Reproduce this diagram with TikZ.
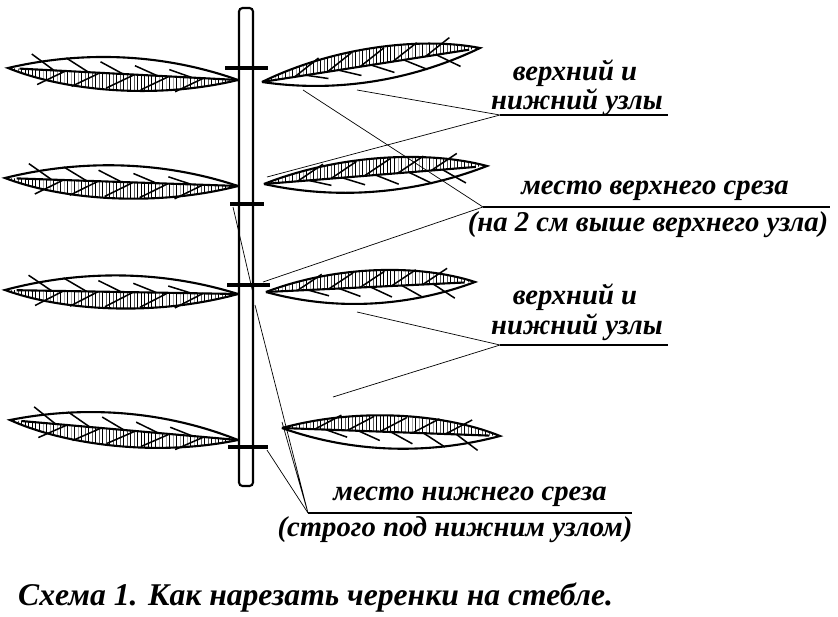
\documentclass[tikz,border=0pt]{standalone}
\usepackage{fontspec}
\setmainfont{Liberation Serif}[BoldItalicFont={Liberation Serif Bold Italic}]
\usetikzlibrary{patterns}
\newcommand\myleaf[4]{%
\pgfmathsetmacro\LL{veclen(#3-#1,#4-#2)}%
\begin{scope}[shift={(#1,#2)}, rotate={atan2(#2-#4,#3-#1)}]
\begin{scope}
\clip (0,0) .. controls (0.35*\LL,-24) and (0.75*\LL,-20) .. (\LL,0) -- cycle;
\fill[pattern=vertical lines] (0,-25) rectangle (\LL,0);
\end{scope}
\draw[leafline] (0,0) .. controls (0.35*\LL,-24) and (0.75*\LL,-20) .. (\LL,0) .. controls (0.7*\LL,20) and (0.35*\LL,24) .. (0,0);
\draw[leafline] (0,0) -- (0.95*\LL,0);
\foreach \t in {0.2,0.35,0.5,0.65,0.8}{
  \draw[line width=1.3pt] (\t*\LL,0) -- (\t*\LL+0.1*\LL,14*\t+4);
  \draw[line width=1.3pt] (\t*\LL-0.05*\LL,0) -- (\t*\LL+0.07*\LL,-15);
}
\end{scope}}
\tikzset{leafline/.style={line width=1.8pt},
 thin line/.style={line width=0.6pt},
 lab/.style={font=\fontsize{24.5}{26}\selectfont\bfseries\itshape, inner sep=0pt},
 cutmark/.style={line width=3.5pt}}
\begin{document}
\begin{tikzpicture}[x=0.03cm,y=-0.03cm]
\useasboundingbox (0,0) rectangle (838,617);
% stem
\draw[line width=1.8pt, fill=white, rounded corners=3] (239,8) rectangle (253,486);
% leaves
\myleaf{238}{80}{8}{68}
\myleaf{262}{82}{480}{48}
\myleaf{238}{186}{5}{178}
\myleaf{264}{184}{487}{166}
\myleaf{238}{294}{5}{290}
\myleaf{266}{292}{475}{282}
\myleaf{238}{440}{10}{420}
\myleaf{282}{428}{500}{436}
% cut marks
\draw[cutmark] (225,68) -- (268,68);
\draw[cutmark] (230,204) -- (264,204);
\draw[cutmark] (227,285) -- (270,285);
\draw[cutmark] (228,447) -- (268,447);
% named points
\coordinate (u1) at (303,90);
\coordinate (u2) at (357,90);
\coordinate (u3) at (267,177);
\coordinate (c1) at (263,282);
\coordinate (m1) at (233,207);
\coordinate (m2) at (253,293);
\coordinate (l1) at (357,312);
\coordinate (l2) at (333,397);
\coordinate (b1) at (255,305);
\coordinate (b2) at (282,422);
\coordinate (b3) at (267,450);
\coordinate (J1) at (500,115);
\coordinate (J1e) at (668,115);
\coordinate (J2) at (483,207);
\coordinate (J2e) at (830,207);
\coordinate (J3) at (500,345);
\coordinate (J3e) at (668,345);
\coordinate (J4) at (308,513);
\coordinate (J4e) at (632,513);
% labels
\node[lab] (t1) at (575,73) {верхний и};
\node[lab] (t2) at (577,102) {нижний узлы};
\node[lab] (t3) at (655,191) {место верхнего среза};
\node[lab] (t4) at (648,225) {(на 2 см выше верхнего узла)};
\node[lab] (t5) at (575,297) {верхний и};
\node[lab] (t6) at (577,327) {нижний узлы};
\node[lab] (t7) at (470,497) {место нижнего среза};
\node[lab] (t8) at (455,530) {(строго под нижним узлом)};
\node[lab, font=\fontsize{27}{29}\selectfont\bfseries\itshape, anchor=west] (cap) at (18,598) {Схема 1. Как нарезать черенки на стебле.};
% leader lines
\draw[thin line] (u2) -- (J1) -- (u3);
\draw[line width=1.5pt] (J1) -- (J1e);
\draw[thin line] (u1) -- (J2) -- (c1);
\draw[line width=1.5pt] (J2) -- (J2e);
\draw[thin line] (m1) -- (m2);
\draw[thin line] (l1) -- (J3) -- (l2);
\draw[line width=1.5pt] (J3) -- (J3e);
\draw[thin line] (b1) -- (J4) -- (b2);
\draw[thin line] (J4) -- (b3);
\draw[line width=1.5pt] (J4) -- (J4e);
\end{tikzpicture}
\end{document}
